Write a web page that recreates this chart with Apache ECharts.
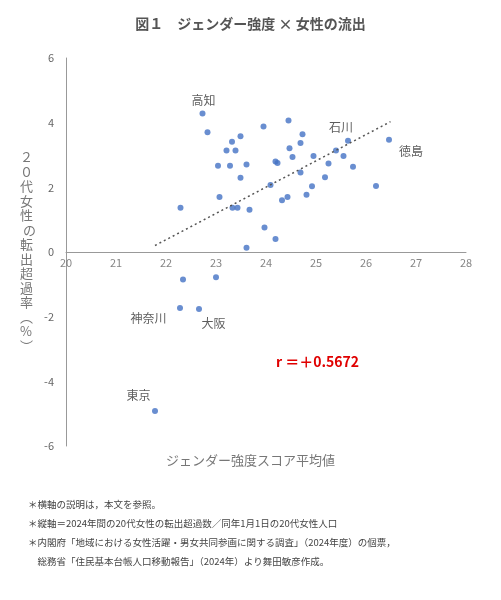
<!DOCTYPE html><html><head><meta charset="utf-8"><script src="https://cdn.jsdelivr.net/npm/echarts@6/dist/echarts.min.js"></script>
<style>body{margin:0}#c{width:501px;height:600px}</style></head><body><div id="c"></div><script>
const xVals=[22.73,22.83,22.29,23.04,23.07,23.21,23.32,23.39,23.28,23.49,23.49,23.33,23.43,23.61,23.67,23.61,23.95,23.97,24.09,24.19,24.23,24.19,24.32,24.43,24.45,24.47,24.53,24.69,24.73,24.69,24.81,24.92,24.95,25.18,25.25,25.40,25.55,25.64,25.74,26.2,26.46,22.34,23.0,22.28,22.66,21.78];
const yVals=[4.28,3.70,1.37,2.67,1.70,3.14,3.41,3.14,2.67,3.58,2.30,1.37,1.37,2.71,1.31,0.13,3.88,0.76,2.07,2.80,2.75,0.40,1.60,1.70,4.07,3.21,2.94,3.37,3.64,2.46,1.77,2.03,2.97,2.31,2.74,3.14,2.97,3.44,2.64,2.04,3.47,-0.85,-0.78,-1.73,-1.76,-4.92];
const xTicks=[20,21,22,23,24,25,26,27,28];
const trendX=[21.78,26.49], trendY=[0.2,4.03];
const labels=[{t:'高知',x:22.75,y:4.7},{t:'石川',x:25.5,y:3.85},{t:'徳島',x:26.9,y:3.1},{t:'神奈川',x:21.65,y:-2.05},{t:'大阪',x:22.95,y:-2.2},{t:'東京',x:21.45,y:-4.45}];
const notes=['＊横軸の説明は，本文を参照。','＊縦軸＝2024年間の20代女性の転出超過数／同年1月1日の20代女性人口','＊内閣府「地域における女性活躍・男女共同参画に関する調査」（2024年度）の個票，','　総務省「住民基本台帳人口移動報告」（2024年）より舞田敏彦作成。'];
const yName='２\n０\n代\n女\n性\n の\n転\n出\n超\n過\n率\n︵\n%\n︶';
const c=echarts.init(document.getElementById('c'));
const f='"Noto Sans CJK JP",sans-serif';
c.setOption({
 textStyle:{fontFamily:f},
 title:{text:'図１　ジェンダー強度 × 女性の流出',left:'center',top:12,textStyle:{fontSize:14,fontWeight:'bold',color:'#555',fontFamily:f}},
 grid:{left:66,right:35,top:58,bottom:154},
 xAxis:{type:'value',min:20,max:28,interval:1,axisLine:{onZero:true,lineStyle:{color:'#999'}},axisTick:{show:false},splitLine:{show:false},axisLabel:{show:false}},
 yAxis:{type:'value',min:-6,max:6,interval:2,axisLine:{show:true,lineStyle:{color:'#999'}},axisTick:{show:false},splitLine:{show:false},axisLabel:{color:'#666',fontSize:11,margin:12}},
 series:[
  {type:'scatter',symbolSize:6,itemStyle:{color:'#4472c4'},data:xVals.map((x,i)=>[x,yVals[i]])},
  {type:'line',symbol:'none',lineStyle:{color:'#555',type:[2,3],width:1.5},data:trendX.map((x,i)=>[x,trendY[i]])},
  {type:'scatter',symbolSize:0,data:labels.map(l=>[l.x,l.y]),label:{show:true,position:'inside',formatter:p=>labels[p.dataIndex].t,color:'#333',fontSize:12}},
  {type:'scatter',symbolSize:0,silent:true,data:xTicks.map(t=>[t,0]),label:{show:true,position:'bottom',distance:5,formatter:p=>String(xTicks[p.dataIndex]),color:'#666',fontSize:11}}
 ],
 graphic:[
  {type:'text',left:20,top:150,style:{text:yName,fill:'#777',fontSize:13,lineHeight:14.5,align:'center',fontFamily:f}},
  {type:'text',left:'center',top:454,style:{text:'ジェンダー強度スコア平均値',fill:'#777',fontSize:13,fontFamily:f}},
  {type:'text',left:276,top:355,style:{text:'r ＝＋0.5672',fill:'#e00000',fontSize:14,fontWeight:'bold',fontFamily:f}},
  ...notes.map((n,i)=>({type:'text',left:28,top:500+i*19,style:{text:n,fill:'#444',fontSize:9.5,fontFamily:f}}))
 ]
});
</script></body></html>
